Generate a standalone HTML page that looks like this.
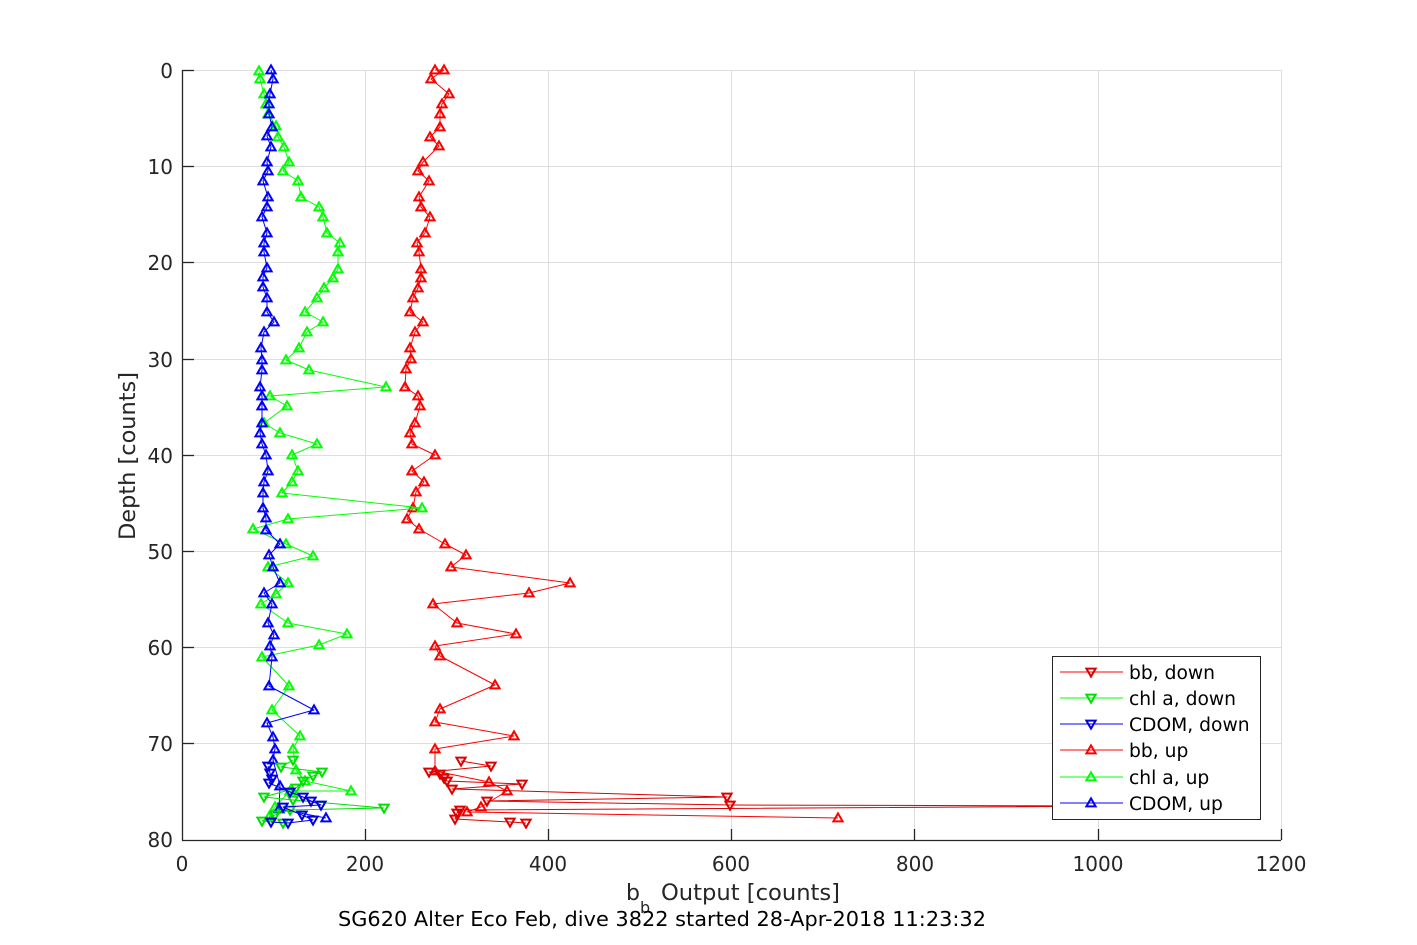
<!DOCTYPE html>
<html><head><meta charset="utf-8"><style>
html,body{margin:0;padding:0;background:#fff;}
svg{display:block;font-family:"DejaVu Sans","Liberation Sans",sans-serif;}
</style></head><body>
<svg width="1417" height="945" viewBox="0 0 1417 945" xmlns="http://www.w3.org/2000/svg">
<defs>
<marker id="ur" viewBox="-7 -7 14 14" markerWidth="14" markerHeight="14" refX="0" refY="0" markerUnits="userSpaceOnUse" orient="0"><polygon points="0,-4.6 -4.6,3.4 4.6,3.4" fill="none" stroke="#ff0000" stroke-width="2"/></marker>
<marker id="ug" viewBox="-7 -7 14 14" markerWidth="14" markerHeight="14" refX="0" refY="0" markerUnits="userSpaceOnUse" orient="0"><polygon points="0,-4.6 -4.6,3.4 4.6,3.4" fill="none" stroke="#00ff00" stroke-width="2"/></marker>
<marker id="ub" viewBox="-7 -7 14 14" markerWidth="14" markerHeight="14" refX="0" refY="0" markerUnits="userSpaceOnUse" orient="0"><polygon points="0,-4.6 -4.6,3.4 4.6,3.4" fill="none" stroke="#0000ff" stroke-width="2"/></marker>
<marker id="dr" viewBox="-7 -7 14 14" markerWidth="14" markerHeight="14" refX="0" refY="0" markerUnits="userSpaceOnUse" orient="0"><polygon points="0,4.6 -4.6,-3.4 4.6,-3.4" fill="none" stroke="#dd0000" stroke-width="2"/></marker>
<marker id="dg" viewBox="-7 -7 14 14" markerWidth="14" markerHeight="14" refX="0" refY="0" markerUnits="userSpaceOnUse" orient="0"><polygon points="0,4.6 -4.6,-3.4 4.6,-3.4" fill="none" stroke="#00e000" stroke-width="2"/></marker>
<marker id="db" viewBox="-7 -7 14 14" markerWidth="14" markerHeight="14" refX="0" refY="0" markerUnits="userSpaceOnUse" orient="0"><polygon points="0,4.6 -4.6,-3.4 4.6,-3.4" fill="none" stroke="#0000e0" stroke-width="2"/></marker>
</defs>

<!-- grid -->
<g stroke="#dedede" stroke-width="1" fill="none">
<line x1="182" y1="70.5" x2="1281" y2="70.5"/>
<line x1="182" y1="166.5" x2="1281" y2="166.5"/>
<line x1="182" y1="262.5" x2="1281" y2="262.5"/>
<line x1="182" y1="359.5" x2="1281" y2="359.5"/>
<line x1="182" y1="455.5" x2="1281" y2="455.5"/>
<line x1="182" y1="551.5" x2="1281" y2="551.5"/>
<line x1="182" y1="647.5" x2="1281" y2="647.5"/>
<line x1="182" y1="743.5" x2="1281" y2="743.5"/>
<line x1="365.5" y1="70" x2="365.5" y2="840"/>
<line x1="548.5" y1="70" x2="548.5" y2="840"/>
<line x1="731.5" y1="70" x2="731.5" y2="840"/>
<line x1="914.5" y1="70" x2="914.5" y2="840"/>
<line x1="1098.5" y1="70" x2="1098.5" y2="840"/>
<line x1="1281.5" y1="70" x2="1281.5" y2="840"/>
</g>

<!-- series -->
<g fill="none" stroke-width="1" stroke-linejoin="round">
<polyline stroke="#ff0000" marker-start="url(#ur)" marker-mid="url(#ur)" marker-end="url(#ur)" points="435,70 444,70 431,79 449,94 442,104 440,114 440,127 430,137 439,146 423,162 418,171 429,181 419,197 421,207 430,217 425,233 417,243 419,252 421,269 421,278 418,288 413,298 410,312 423,322 415,332 410,348 411,359 406,369 405,387 418,396 420,406 415,423 410,433 412,444 435,455 412,471 424,482 416,492 413,508 407,519 419,529 445,544 466,555 451,567 570,583 529,593 433,604 457,623 516,634 435,646 440,656 495,685 440,709 435,722 514,736 435,749 435,771 489,782 507,791 481,807 467,812 838,818"/>
<polyline stroke="#00ff00" marker-start="url(#ug)" marker-mid="url(#ug)" marker-end="url(#ug)" points="259,71 260,79 264,94 266,104 268,114 276,126 278,137 284,147 289,162 283,171 298,181 301,197 319,207 323,217 327,233 340,243 338,252 338,269 333,278 324,288 317,298 305,312 323,322 307,332 299,348 286,360 309,370 386,387 270,396 287,406 264,423 280,433 317,444 292,455 298,471 292,482 282,493 422,508 288,519 253,529 286,544 313,556 268,567 288,583 276,594 261,604 288,623 347,634 319,645 262,657 289,686 272,710 300,736 293,749 296,770 305,781 351,791 290,791 275,807 269,817"/>
<polyline stroke="#0000ff" marker-start="url(#ub)" marker-mid="url(#ub)" marker-end="url(#ub)" points="271,70 273,79 270,94 269,104 269,114 272,127 267,136 271,147 267,162 268,171 263,181 268,197 267,207 262,217 267,233 264,243 264,252 267,268 263,277 263,287 267,298 267,312 274,322 264,332 261,348 262,360 262,370 260,387 262,396 262,406 262,423 260,433 262,444 266,455 268,471 264,482 263,493 263,508 266,518 266,530 280,544 269,555 273,567 280,583 264,593 272,604 268,623 274,635 270,646 272,657 269,686 314,710 267,723 273,737 275,749 273,760 280,786 279,809 326,818"/>
<polyline stroke="#e00000" marker-start="url(#dr)" marker-mid="url(#dr)" marker-end="url(#dr)" points="461,761 491,766 429,772 440,774 444,778 447,781 522,784 452,789 727,797 487,801 730,805 1144,806 460,810 457,813 455,819 510,822 526,823"/>
<polyline stroke="#00e000" marker-start="url(#dg)" marker-mid="url(#dg)" marker-end="url(#dg)" points="293,760 281,767 322,772 313,776 303,781 296,788 264,797 293,800 384,808 290,810 275,815 262,821 283,823"/>
<polyline stroke="#0000e0" marker-start="url(#db)" marker-mid="url(#db)" marker-end="url(#db)" points="268,766 270,773 272,779 269,783 290,792 303,797 311,801 321,805 283,807 302,815 313,820 288,823 271,822"/>
</g>

<!-- axes -->
<g stroke="#262626" stroke-width="1.3" fill="none">
<line x1="182.5" y1="70" x2="182.5" y2="840.5"/>
<line x1="182" y1="840.5" x2="1281" y2="840.5"/>
<line x1="182" y1="70.5" x2="194" y2="70.5"/>
<line x1="182" y1="166.5" x2="194" y2="166.5"/>
<line x1="182" y1="262.5" x2="194" y2="262.5"/>
<line x1="182" y1="359.5" x2="194" y2="359.5"/>
<line x1="182" y1="455.5" x2="194" y2="455.5"/>
<line x1="182" y1="551.5" x2="194" y2="551.5"/>
<line x1="182" y1="647.5" x2="194" y2="647.5"/>
<line x1="182" y1="743.5" x2="194" y2="743.5"/>
<line x1="365.5" y1="829" x2="365.5" y2="840"/>
<line x1="548.5" y1="829" x2="548.5" y2="840"/>
<line x1="731.5" y1="829" x2="731.5" y2="840"/>
<line x1="914.5" y1="829" x2="914.5" y2="840"/>
<line x1="1098.5" y1="829" x2="1098.5" y2="840"/>
<line x1="1281.5" y1="829" x2="1281.5" y2="840"/>
</g>

<!-- tick labels -->
<g fill="#262626" font-size="20" text-anchor="end">
<text x="173" y="78">0</text>
<text x="173" y="174">10</text>
<text x="173" y="270">20</text>
<text x="173" y="367">30</text>
<text x="173" y="463">40</text>
<text x="173" y="559">50</text>
<text x="173" y="655">60</text>
<text x="173" y="751">70</text>
<text x="173" y="847">80</text>
</g>
<g fill="#262626" font-size="20" text-anchor="middle">
<text x="182" y="871">0</text>
<text x="365" y="871">200</text>
<text x="548" y="871">400</text>
<text x="731" y="871">600</text>
<text x="915" y="871">800</text>
<text x="1098" y="871">1000</text>
<text x="1281" y="871">1200</text>
</g>

<!-- axis labels -->
<text x="135" y="456" font-size="22" fill="#262626" text-anchor="middle" transform="rotate(-90 135 456)" textLength="168" lengthAdjust="spacingAndGlyphs">Depth [counts]</text>
<text x="626" y="900" font-size="22" fill="#262626">b</text>
<text x="640" y="913" font-size="16" fill="#262626">b</text>
<text x="661" y="900" font-size="22" fill="#262626" textLength="179" lengthAdjust="spacingAndGlyphs">Output [counts]</text>
<text x="338" y="926" font-size="20.5" fill="#000" textLength="648" lengthAdjust="spacingAndGlyphs">SG620 Alter Eco Feb, dive 3822 started 28-Apr-2018 11:23:32</text>

<!-- legend -->
<rect x="1052.5" y="656.5" width="208" height="163" fill="#fff" stroke="#262626" stroke-width="1"/>
<g fill="none" stroke-width="1">
<polyline stroke="#ff0000" points="1060,672 1091,672 1123,672" marker-mid="url(#dr)"/>
<polyline stroke="#00ff00" points="1060,698 1091,698 1123,698" marker-mid="url(#dg)"/>
<polyline stroke="#0000ff" points="1060,724 1091,724 1123,724" marker-mid="url(#db)"/>
<polyline stroke="#ff0000" points="1060,750 1091,750 1123,750" marker-mid="url(#ur)"/>
<polyline stroke="#00ff00" points="1060,777 1091,777 1123,777" marker-mid="url(#ug)"/>
<polyline stroke="#0000ff" points="1060,803 1091,803 1123,803" marker-mid="url(#ub)"/>
</g>
<g fill="#000" font-size="18.7">
<text x="1129" y="679">bb, down</text>
<text x="1129" y="705">chl a, down</text>
<text x="1129" y="731">CDOM, down</text>
<text x="1129" y="757">bb, up</text>
<text x="1129" y="784">chl a, up</text>
<text x="1129" y="810">CDOM, up</text>
</g>
</svg>
</body></html>
